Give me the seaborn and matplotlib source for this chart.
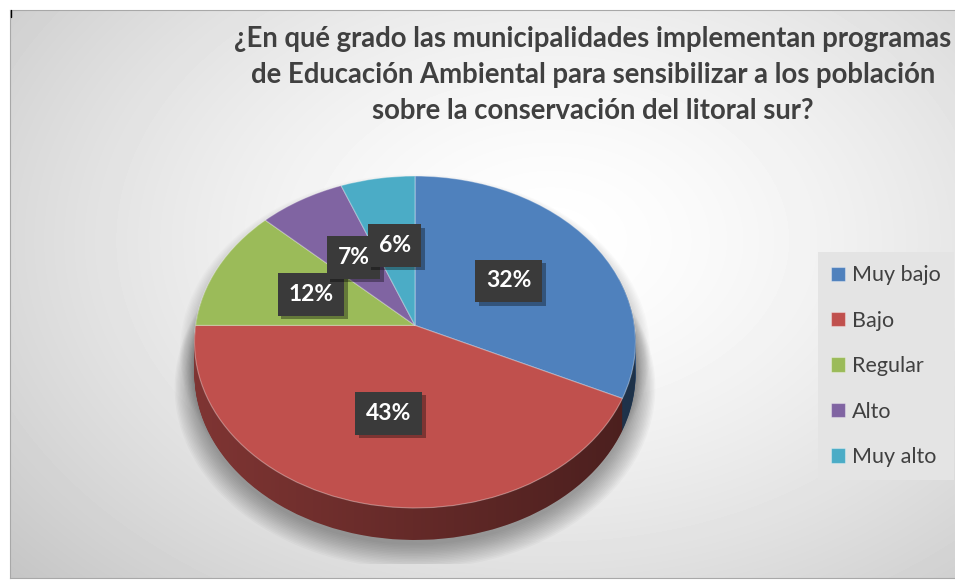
import numpy as np
import matplotlib
matplotlib.use("Agg")
import matplotlib.pyplot as plt
import seaborn as sns
from matplotlib.patches import Polygon
from matplotlib.transforms import Transform, Affine2D
from matplotlib.lines import Line2D
import matplotlib.patheffects as pe

categories = ["Muy bajo", "Bajo", "Regular", "Alto", "Muy alto"]
percentages = [32, 43, 12, 7, 6]
colors = ["#4F81BD", "#C0504D", "#9BBB59", "#8064A2", "#4BACC6"]
title = ("¿En qué grado las municipalidades implementan programas\n"
         "de Educación Ambiental para sensibilizar a los población\n"
         "sobre la conservación del litoral sur?")

sns.set_theme(style="white")
plt.rcParams['font.family'] = ['Lato', 'DejaVu Sans']

palette = sns.color_palette(colors)
side_palette = [tuple(0.66 * c for c in col) for col in palette]

W, H = 955, 580
fig = plt.figure(figsize=(W / 100, H / 100), dpi=100)
fig.patch.set_facecolor('white')


def fig_rect(x0, y0, x1, y1):
    return [x0 / W, 1 - y1 / H, (x1 - x0) / W, (y1 - y0) / H]


class Perspective(Transform):
    """Simple perspective tilt of the pie plane (far side shrinks)."""
    input_dims = 2
    output_dims = 2
    is_separable = False
    has_inverse = False

    def __init__(self, k):
        super().__init__()
        self.k = k

    def transform_non_affine(self, values):
        values = np.asarray(values, dtype=float)
        w = 1 + self.k * values[:, 1]
        return np.column_stack([values[:, 0] / w, values[:, 1] / w])


K = 0.1
persp = Perspective(K)

# background with radial gradient
bg = fig.add_axes(fig_rect(10, 10, 956, 578))
yy, xx = np.mgrid[0:568, 0:946]
cx, cy = 540, 230
r = np.sqrt(((xx - cx) / 620.0) ** 2 + ((yy - cy) / 430.0) ** 2)
v = 1 - 0.18 * np.clip(r, 0, 1.2) ** 1.5
bg.imshow(v, cmap='gray', vmin=0, vmax=1, aspect='auto', extent=(0, 946, 568, 0))
bg.set_xticks([])
bg.set_yticks([])
for s in bg.spines.values():
    s.set_color('#a8a8a8')
    s.set_linewidth(0.8)
fig.add_artist(Line2D([10.5 / W, 10.5 / W], [1 - 10 / H, 1 - 17 / H], color='black', lw=1.0))

# pie axes: 1 unit = 219.4 px horizontally, 164.3 px vertically, apex at (415, 325.4)
SX, SY = 219.4, 164.3
AX, AY = 415, 325.4
XL, YL = (-1.1, 1.1), (-1.45, 1.0)
ax = fig.add_axes(fig_rect(AX + XL[0] * SX, AY - YL[1] * SY, AX + XL[1] * SX, AY - YL[0] * SY))
ax.set_zorder(2)
D = 32 / SY  # depth of the pie side

# outline of the projected disk
t = np.linspace(0, 2 * np.pi, 721)
disk = persp.transform_non_affine(np.column_stack([np.cos(t), np.sin(t)]))

# soft shadow
for i in range(16):
    s = 1.0 + 0.006 * i
    pts = disk * s + np.array([0, -D - 0.03 - 0.003 * i])
    ax.add_patch(Polygon(pts, closed=True, fc='black', ec='none', alpha=0.024, zorder=1))
for i in range(12):
    s = 1.0 + 0.006 * i
    pts = disk * s + np.array([0, -0.05])
    ax.add_patch(Polygon(pts, closed=True, fc='black', ec='none', alpha=0.015, zorder=1))

# side (extrusion) made of stacked pies
n_layers = 40
for k in range(n_layers, 0, -1):
    off = D * k / n_layers
    ws, _ = ax.pie(percentages, colors=side_palette, startangle=90, counterclock=False,
                   wedgeprops=dict(linewidth=0))
    tr = persp + Affine2D().translate(0, -off) + ax.transData
    for w in ws:
        w.set_transform(tr)
        w.set_zorder(2)

# darkening gradient on the side
tt = np.linspace(np.pi - 0.3, 2 * np.pi + 0.3, 400)
ring = persp.transform_non_affine(np.column_stack([np.cos(tt), np.sin(tt)]))
side_pts = np.vstack([ring, (ring - np.array([0, D]))[::-1]])
side_poly = Polygon(side_pts, closed=True, fc='none', ec='none')
ax.add_patch(side_poly)
grad = np.zeros((2, 300, 4))
grad[..., 3] = np.linspace(0.0, 0.42, 300)[None, :]
im = ax.imshow(grad, extent=(-1.02, 1.02, -1.2 - D, 0.3), aspect='auto', zorder=3)
im.set_clip_path(side_poly)

# top face
wedges, texts, autotexts = ax.pie(
    percentages, colors=palette, startangle=90, counterclock=False,
    autopct=lambda p: f"{p:.0f}%", pctdistance=0.52,
    wedgeprops=dict(linewidth=0.8, edgecolor=(1, 1, 1, 0.35)),
    textprops=dict(color='white', fontsize=16.5, fontweight='bold'))
top_tr = persp + ax.transData
for w in wedges:
    w.set_transform(top_tr)
    w.set_zorder(4)
for at in autotexts:
    x, y = at.get_position()
    px, py = persp.transform_non_affine(np.array([[x, y]]))[0]
    at.set_position((px, py))
    at.set_zorder(6)
    at.set_bbox(dict(boxstyle='square,pad=0.47', fc='#3a3a3a', ec='none'))
    at.get_bbox_patch().set_path_effects([
        pe.SimplePatchShadow(offset=(2.5, -2.5), shadow_rgbFace='black', alpha=0.35),
        pe.Normal()])

ax.set_aspect('auto')
ax.set_xlim(*XL)
ax.set_ylim(*YL)
ax.set_axis_off()

fig.text(593 / W, 1 - 26 / H, title, ha='center', va='top', fontsize=19.8,
         fontweight='bold', color='#404040', linespacing=1.47)

leg = fig.legend(wedges, categories, loc='upper left',
                 bbox_to_anchor=(818 / W, 1 - 252 / H), bbox_transform=fig.transFigure,
                 frameon=True, fancybox=False, facecolor='#e4e4e4', edgecolor='none',
                 framealpha=1, fontsize=15.5, labelspacing=1.18, handlelength=0.65,
                 handleheight=0.65, handletextpad=0.3, borderpad=0.62, borderaxespad=0)
for txt in leg.get_texts():
    txt.set_color('#404040')

fig.savefig("out.png", dpi=100, facecolor=fig.get_facecolor())
